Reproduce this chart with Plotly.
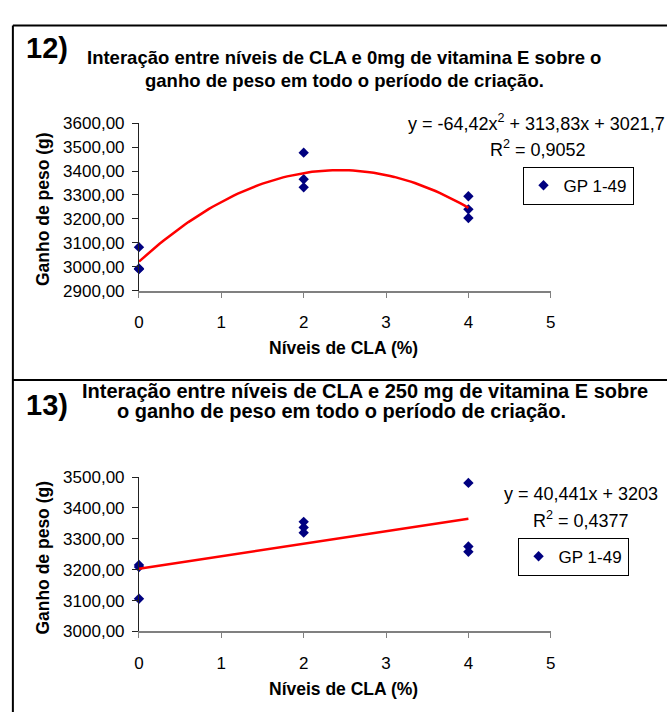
import numpy as np
import plotly.graph_objects as go

W, H = 672, 722

# ---------------- data ----------------
cla_levels = [0, 0, 0, 2, 2, 2, 4, 4, 4]
gp_0mg = [3082, 2993, 2990, 3477, 3366, 3332, 3295, 3240, 3204]
gp_250mg = [3215, 3209, 3106, 3355, 3337, 3320, 3481, 3275, 3258]

# trendline coefficients (highest power first), as printed on the chart
coef_0mg = [-64.42, 313.83, 3021.7]
coef_250mg = [40.441, 3203]
trend_x_range = [0, 4]

eq_0mg = "y = -64,42x<sup>2</sup> + 313,83x + 3021,7"
r2_0mg = "R<sup>2</sup> = 0,9052"
eq_250mg = "y = 40,441x + 3203"
r2_250mg = "R<sup>2</sup> = 0,4377"

series_name = "GP 1-49"
title_12 = ["Interação entre níveis de CLA e 0mg de vitamina E sobre o",
            "ganho de peso em todo o período de criação."]
title_13 = ["Interação entre níveis de CLA e 250 mg de vitamina E sobre",
            "o ganho de peso em todo o período de criação."]
x_title = "Níveis de CLA (%)"
y_title = "Ganho de peso (g)"

FONT = "Liberation Sans, Arial, sans-serif"


def px(x):
    return x / W


def py(y):
    return 1 - y / H


fig = go.Figure()

xt = np.linspace(trend_x_range[0], trend_x_range[1], 81)
marker_style = dict(symbol="diamond", size=8, color="#000080")

# top panel
fig.add_trace(go.Scatter(x=cla_levels, y=gp_0mg, mode="markers", name=series_name,
                         marker=marker_style, cliponaxis=False,
                         xaxis="x", yaxis="y", legend="legend"))
fig.add_trace(go.Scatter(x=xt, y=np.polyval(coef_0mg, xt), mode="lines",
                         line=dict(color="#ff0000", width=2.5), showlegend=False,
                         cliponaxis=False, xaxis="x", yaxis="y"))
# bottom panel
fig.add_trace(go.Scatter(x=cla_levels, y=gp_250mg, mode="markers", name=series_name,
                         marker=marker_style, cliponaxis=False,
                         xaxis="x2", yaxis="y2", legend="legend2"))
fig.add_trace(go.Scatter(x=xt, y=np.polyval(coef_250mg, xt), mode="lines",
                         line=dict(color="#ff0000", width=2.5), showlegend=False,
                         cliponaxis=False, xaxis="x2", yaxis="y2"))

xdom = [px(136), px(554)]
common_x = dict(range=[0, 5], dtick=1, tick0=0, showline=True, linecolor="#808080",
                linewidth=2, ticks="outside", ticklen=5, tickcolor="#808080", tickwidth=1,
                showgrid=False, zeroline=False, ticklabelstandoff=10,
                tickfont=dict(family=FONT, size=17, color="black"), fixedrange=True)
common_y = dict(dtick=100, tickformat=".2f", showline=True, linecolor="#222222",
                linewidth=1, ticks="outside", ticklen=6, tickcolor="#222222",
                showgrid=False, zeroline=False, ticklabelstandoff=4,
                tickfont=dict(family=FONT, size=17, color="black"), fixedrange=True)

legend_common = dict(xanchor="right", yanchor="top", bordercolor="black", borderwidth=1,
                     bgcolor="white", font=dict(family=FONT, size=17, color="black"),
                     itemwidth=30)

fig.update_layout(
    width=W, height=H, margin=dict(l=0, r=0, t=0, b=0),
    paper_bgcolor="white", plot_bgcolor="white",
    separators=",.",
    font=dict(family=FONT, color="black"),
    xaxis=dict(domain=xdom, anchor="y", **common_x),
    yaxis=dict(domain=[py(289.3), py(117.3)], range=[2900, 3600], anchor="x", tick0=2900, **common_y),
    xaxis2=dict(domain=xdom, anchor="y2", **common_x),
    yaxis2=dict(domain=[py(639.3), py(480.7)], range=[3000, 3500], anchor="x2", tick0=3000, **common_y),
    legend=dict(x=px(638), y=py(162), **legend_common),
    legend2=dict(x=px(633), y=py(543), **legend_common),
    showlegend=True,
)

# frame lines
line_style = dict(color="black", width=2)
fig.add_shape(type="line", xref="paper", yref="paper", x0=px(8), x1=1, y0=py(17), y1=py(17), line=line_style)
fig.add_shape(type="line", xref="paper", yref="paper", x0=px(8), x1=px(8), y0=py(17), y1=0, line=line_style)
fig.add_shape(type="line", xref="paper", yref="paper", x0=px(8), x1=1, y0=py(381), y1=py(381), line=line_style)


def ann(text, x, y, size, bold=False, angle=0, xanchor="center"):
    t = f"<b>{text}</b>" if bold else text
    fig.add_annotation(text=t, x=px(x), y=py(y), xref="paper", yref="paper",
                       xanchor=xanchor, yanchor="middle", showarrow=False, textangle=angle,
                       font=dict(family=FONT, size=size, color="black"))


# panel 12
ann("12)", 43, 40, 29, bold=True)
ann(title_12[0], 344, 50, 18.5, bold=True)
ann(title_12[1], 344.5, 73, 18.5, bold=True)
ann(eq_0mg, 540, 117, 18)
ann(r2_0mg, 541.5, 143, 18)
ann(x_title, 344, 348, 17.5, bold=True)
ann(y_title, 38, 205, 17.5, bold=True, angle=-90)

# panel 13
ann("13)", 43, 407, 29, bold=True)
ann(title_13[0], 365.5, 392, 20, bold=True)
ann(title_13[1], 342, 413, 20, bold=True)
ann(eq_250mg, 585, 498, 18)
ann(r2_250mg, 585, 524, 18)
ann(x_title, 344, 698, 17.5, bold=True)
ann(y_title, 39, 563, 17.5, bold=True, angle=-90)

fig.write_html("out.html")
